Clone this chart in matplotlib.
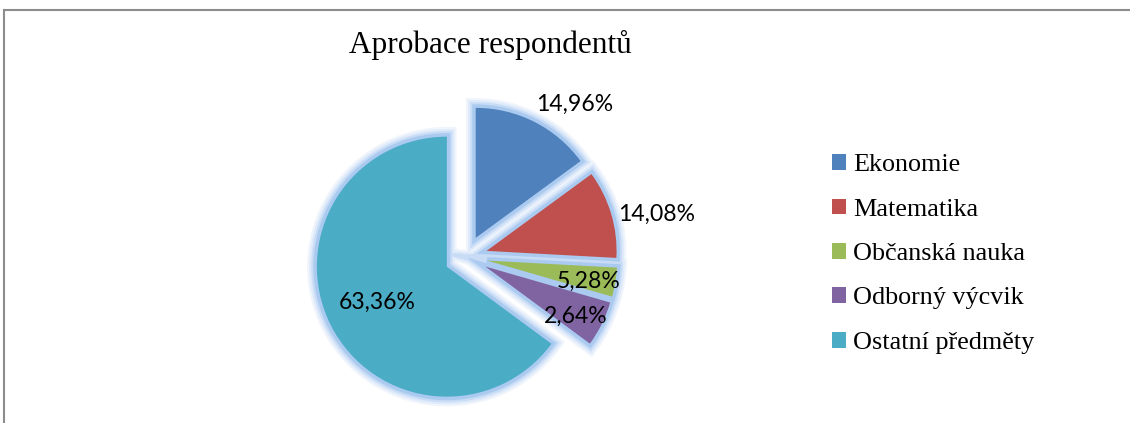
import matplotlib
matplotlib.use("Agg")
import matplotlib.pyplot as plt
from matplotlib.lines import Line2D

title = "Aprobace respondentů"
categories = ["Ekonomie", "Matematika", "Občanská nauka", "Odborný výcvik", "Ostatní předměty"]
# wedge sizes as drawn in the picture (percent of the full circle)
values = [14.94, 10.92, 3.61, 5.64, 64.89]
# data-label texts as printed on the chart
value_labels = ["14,96%", "14,08%", "5,28%", "2,64%", "63,36%"]
colors = ["#4F81BD", "#C0504D", "#9BBB59", "#8064A2", "#4BACC6"]

W, H = 1130, 423
fig = plt.figure(figsize=(W / 100, H / 100), dpi=100)
fig.patch.set_facecolor("white")

# outer frame (partially visible)
fig.add_artist(Line2D([4 / W, 1], [1 - 10 / H, 1 - 10 / H], color="#8c8c8c", lw=1.5, transform=fig.transFigure))
fig.add_artist(Line2D([4 / W, 4 / W], [0, 1 - 10 / H], color="#8c8c8c", lw=1.5, transform=fig.transFigure))

R = 130.0
cx, cy = 466, 257
half = 220
ax = fig.add_axes([(cx - half) / W, (H - cy - half) / H, 2 * half / W, 2 * half / H])
ax.axis("off")

explode = [0.165] * len(values)
common = dict(startangle=90, counterclock=False, explode=explode, radius=1.0)

# soft light-blue glow around every slice
for lw, ec in [(14, "#f0f5fc"), (11, "#dfeafa"), (8, "#c8dcf6"), (5, "#abcaf0")]:
    ax.pie(values, colors=colors, wedgeprops=dict(edgecolor=ec, linewidth=lw), **common)
w3, _, autotexts = ax.pie(values, colors=colors, wedgeprops=dict(edgecolor="none", linewidth=0),
                          autopct="%1.2f%%", **common)
ax.set_xlim(-half / R, half / R)
ax.set_ylim(-half / R, half / R)
ax.set_aspect("equal")

label_pos = [(0.838, 1.173), (1.469, 0.331), (0.946, -0.185), (0.846, -0.454), (-0.685, -0.346)]
for t, lab, pos in zip(autotexts, value_labels, label_pos):
    t.set_text(lab)
    t.set_position(pos)
    t.set_fontsize(16.6)
    t.set_family("Lato")
    t.set_color("black")
    t.set_ha("center")
    t.set_va("center")

fig.text(490 / W, 1 - 53 / H, title, ha="center", va="baseline", fontsize=22.5,
         family="Liberation Serif")

handles = [plt.Rectangle((0, 0), 1, 1, facecolor=c, edgecolor="none") for c in colors]
fig.legend(handles, categories, loc="center left", bbox_to_anchor=(832 / W, 1 - 254 / H),
           frameon=False, borderpad=0, borderaxespad=0, handlelength=0.54, handleheight=0.54,
           handletextpad=0.27, labelspacing=0.86, prop=dict(family="Liberation Serif", size=18.8))

fig.savefig("out.png", dpi=100)
